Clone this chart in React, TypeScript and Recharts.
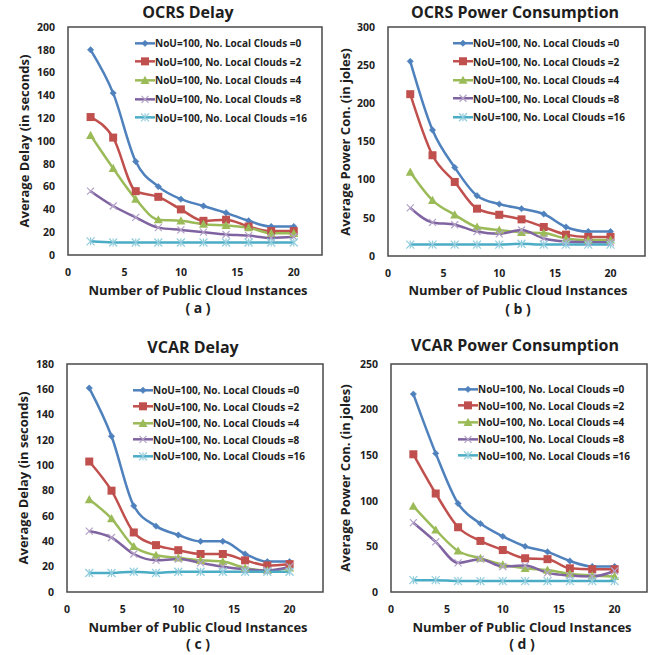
import React from 'react';
import { LineChart, Line, XAxis, YAxis, ReferenceArea, Legend } from 'recharts';

const instances = [2, 4, 6, 8, 10, 12, 14, 16, 18, 20];
const xTicks = [0, 5, 10, 15, 20];
const seriesNames = [
  'NoU=100, No. Local Clouds =0',
  'NoU=100, No. Local Clouds =2',
  'NoU=100, No. Local Clouds =4',
  'NoU=100, No. Local Clouds =8',
  'NoU=100, No. Local Clouds =16',
];

const ocrsDelay0 = [180, 142, 82, 60, 49, 43, 37, 30, 25, 25];
const ocrsDelay2 = [121, 103, 56, 51, 40, 30, 31, 25, 21, 21];
const ocrsDelay4 = [105, 76, 49, 31, 30, 27, 26, 24, 19, 19];
const ocrsDelay8 = [56, 43, 33, 24, 22, 20, 18, 17, 15, 16];
const ocrsDelay16 = [12, 11, 11, 11, 11, 11, 11, 11, 11, 11];

const ocrsPower0 = [255, 165, 116, 79, 68, 62, 55, 38, 32, 32];
const ocrsPower2 = [212, 132, 97, 62, 54, 48, 38, 28, 25, 25];
const ocrsPower4 = [110, 73, 54, 38, 34, 31, 30, 23, 21, 21];
const ocrsPower8 = [63, 44, 41, 32, 29, 34, 23, 19, 18, 18];
const ocrsPower16 = [15, 15, 15, 15, 15, 16, 15, 15, 15, 15];

const vcarDelay0 = [161, 123, 68, 52, 45, 40, 40, 30, 24, 24];
const vcarDelay2 = [103, 80, 47, 37, 33, 30, 30, 25, 21, 22];
const vcarDelay4 = [73, 58, 36, 29, 27, 25, 24, 19, 17, 19];
const vcarDelay8 = [48, 43, 30, 25, 26, 23, 20, 18, 17, 20];
const vcarDelay16 = [15, 15, 16, 15, 16, 16, 16, 16, 16, 16];

const vcarPower0 = [217, 152, 97, 75, 61, 50, 44, 34, 28, 28];
const vcarPower2 = [151, 108, 71, 56, 46, 37, 36, 26, 25, 25];
const vcarPower4 = [94, 68, 45, 37, 30, 26, 24, 20, 18, 17];
const vcarPower8 = [76, 55, 32, 36, 28, 29, 21, 18, 17, 23];
const vcarPower16 = [13, 13, 12, 12, 12, 12, 12, 12, 12, 12];

const FONT = "'Open Sans', Lato, 'Liberation Sans', sans-serif";
const TEXT = '#1e1e1e';

const seriesStyle = [
  { key: 's0', color: '#4F81BD', marker: 'diamond', mcolor: '#4F81BD' },
  { key: 's1', color: '#C0504D', marker: 'square', mcolor: '#C0504D' },
  { key: 's2', color: '#9BBB59', marker: 'triangle', mcolor: '#9BBB59' },
  { key: 's3', color: '#8064A2', marker: 'x', mcolor: '#B3A2C7' },
  { key: 's4', color: '#4BACC6', marker: 'star', mcolor: '#93CDDD' },
];

function buildTable(cols: number[][]) {
  return instances.map((x, i) => {
    const row: Record<string, number> = { x };
    cols.forEach((c, j) => {
      row['s' + j] = c[i];
    });
    return row;
  });
}

function Marker({ kind, cx, cy, color }: { kind: string; cx: number; cy: number; color: string }) {
  if (kind === 'diamond') {
    const r = 3.2;
    return <path d={`M${cx},${cy - r}L${cx + r},${cy}L${cx},${cy + r}L${cx - r},${cy}Z`} fill={color} stroke={color} strokeWidth={0.5} />;
  }
  if (kind === 'square') {
    const r = 4;
    return <rect x={cx - r} y={cy - r} width={2 * r} height={2 * r} fill={color} />;
  }
  if (kind === 'triangle') {
    const r = 4.5;
    return <path d={`M${cx},${cy - r}L${cx + r},${cy + r * 0.8}L${cx - r},${cy + r * 0.8}Z`} fill={color} />;
  }
  if (kind === 'x') {
    const r = 3.5;
    return (
      <g stroke={color} strokeWidth={1.2}>
        <line x1={cx - r} y1={cy - r} x2={cx + r} y2={cy + r} />
        <line x1={cx - r} y1={cy + r} x2={cx + r} y2={cy - r} />
      </g>
    );
  }
  const r = 4;
  return (
    <g stroke={color} strokeWidth={1.2}>
      <line x1={cx - r} y1={cy - r} x2={cx + r} y2={cy + r} />
      <line x1={cx - r} y1={cy + r} x2={cx + r} y2={cy - r} />
      <line x1={cx} y1={cy - r} x2={cx} y2={cy + r} />
    </g>
  );
}

const makeDot = (kind: string, color: string) => (props: any) => {
  const { cx, cy, index } = props;
  if (cx == null || cy == null) return <g key={index} />;
  return (
    <g key={index}>
      <Marker kind={kind} cx={cx} cy={cy} color={color} />
    </g>
  );
};

type PanelProps = {
  box: { left: number; top: number; width: number; height: number };
  plot: { left: number; top: number; right: number; bottom: number };
  xMax: number;
  yMax: number;
  yStep: number;
  cols: number[][];
  title: string;
  titleX: number;
  titleY: number;
  yLabel: string;
  yLabelX: number;
  xLabelX: number;
  xLabelY: number;
  letter: string;
  letterY: number;
  legendX: number;
  legendY: number;
  rowH: number;
};

function Panel(p: PanelProps) {
  const data = buildTable(p.cols);
  const yTicks: number[] = [];
  for (let v = 0; v <= p.yMax; v += p.yStep) yTicks.push(v);
  const yAxisWidth = p.plot.left - p.box.left;
  const xAxisHeight = p.box.top + p.box.height - p.plot.bottom;
  const margin = { top: p.plot.top - p.box.top, right: p.box.left + p.box.width - p.plot.right, left: 0, bottom: 0 };
  const tickStyle = { fill: TEXT, fontSize: 10.5, fontWeight: 700, fontFamily: FONT };
  const midY = (p.plot.top + p.plot.bottom) / 2;

  const legendContent = () => (
    <div style={{ fontFamily: FONT, fontSize: 10, fontWeight: 700, color: TEXT }}>
      {seriesStyle.map((s, i) => (
        <div key={s.key} style={{ display: 'flex', alignItems: 'center', height: p.rowH, whiteSpace: 'nowrap' }}>
          <svg width={20} height={p.rowH} style={{ display: 'block' }}>
            <line x1={0} y1={p.rowH / 2} x2={20} y2={p.rowH / 2} stroke={s.color} strokeWidth={2.5} />
            <Marker kind={s.marker} cx={10} cy={p.rowH / 2} color={s.mcolor} />
          </svg>
          <span>{seriesNames[i]}</span>
        </div>
      ))}
    </div>
  );

  return (
    <>
      <div style={{ position: 'absolute', left: p.box.left, top: p.box.top }}>
        <LineChart width={p.box.width} height={p.box.height} data={data} margin={margin}>
          <XAxis
            dataKey="x"
            type="number"
            domain={[0, p.xMax]}
            ticks={xTicks}
            allowDataOverflow
            height={xAxisHeight}
            tickLine={false}
            tickSize={6}
            tickMargin={8}
            axisLine={false}
            tick={tickStyle}
          />
          <YAxis
            type="number"
            domain={[0, p.yMax]}
            ticks={yTicks}
            width={yAxisWidth}
            tickLine={false}
            tickSize={6}
            tickMargin={7}
            axisLine={false}
            tick={tickStyle}
            interval={0}
          />
          <ReferenceArea x1={0} x2={p.xMax} y1={0} y2={p.yMax} fill="none" fillOpacity={0} stroke="#4a4a4a" strokeWidth={1.5} />
          {seriesStyle.map((s, i) => (
            <Line
              key={s.key}
              dataKey={s.key}
              name={seriesNames[i]}
              type="monotone"
              stroke={s.color}
              strokeWidth={2.5}
              dot={makeDot(s.marker, s.mcolor)}
              activeDot={false}
              isAnimationActive={false}
            />
          ))}
          <Legend
            layout="vertical"
            align="center"
            verticalAlign="middle"
            content={legendContent}
            wrapperStyle={{ left: p.legendX - p.box.left, top: p.legendY - p.box.top - p.rowH / 2, width: 200 }}
          />
        </LineChart>
      </div>
      <div style={{ position: 'absolute', left: p.titleX - 150, top: p.titleY - 11, width: 300, textAlign: 'center', fontFamily: FONT, fontWeight: 700, fontSize: 16, lineHeight: '22px', color: TEXT }}>
        {p.title}
      </div>
      <div style={{ position: 'absolute', left: p.yLabelX - 150, top: midY - 9, width: 300, height: 18, textAlign: 'center', transform: 'rotate(-90deg)', fontFamily: FONT, fontWeight: 700, fontSize: 13, lineHeight: '18px', color: TEXT, whiteSpace: 'nowrap' }}>
        {p.yLabel}
      </div>
      <div style={{ position: 'absolute', left: p.xLabelX - 150, top: p.xLabelY - 7.5, width: 300, textAlign: 'center', fontFamily: FONT, fontWeight: 700, fontSize: 13, lineHeight: '15px', color: TEXT }}>
        Number of Public Cloud Instances
      </div>
      <div style={{ position: 'absolute', left: p.xLabelX - 50, top: p.letterY - 7, width: 100, textAlign: 'center', fontFamily: FONT, fontWeight: 700, fontSize: 14, lineHeight: '15px', color: TEXT, whiteSpace: 'pre' }}>
        {`( ${p.letter} )`}
      </div>
    </>
  );
}

export default function App() {
  return (
    <div style={{ position: 'absolute', left: 0, top: 0, width: 656, height: 655, background: '#fff' }}>
      <Panel
        box={{ left: 0, top: 0, width: 328, height: 325 }}
        plot={{ left: 68, top: 27, right: 322, bottom: 255 }}
        xMax={22.5}
        yMax={200}
        yStep={20}
        cols={[ocrsDelay0, ocrsDelay2, ocrsDelay4, ocrsDelay8, ocrsDelay16]}
        title="OCRS Delay"
        titleX={188}
        titleY={12}
        yLabel="Average Delay (in seconds)"
        yLabelX={24}
        xLabelX={198}
        xLabelY={290}
        letter="a"
        letterY={307}
        legendX={135}
        legendY={43}
        rowH={18.7}
      />
      <Panel
        box={{ left: 328, top: 0, width: 328, height: 325 }}
        plot={{ left: 388, top: 27, right: 645, bottom: 256 }}
        xMax={23.1}
        yMax={300}
        yStep={50}
        cols={[ocrsPower0, ocrsPower2, ocrsPower4, ocrsPower8, ocrsPower16]}
        title="OCRS Power Consumption"
        titleX={515}
        titleY={12}
        yLabel="Average Power Con. (in joles)"
        yLabelX={345}
        xLabelX={518}
        xLabelY={290}
        letter="b"
        letterY={308}
        legendX={453}
        legendY={43}
        rowH={18.5}
      />
      <Panel
        box={{ left: 0, top: 330, width: 328, height: 325 }}
        plot={{ left: 67, top: 364, right: 323, bottom: 592 }}
        xMax={23}
        yMax={180}
        yStep={20}
        cols={[vcarDelay0, vcarDelay2, vcarDelay4, vcarDelay8, vcarDelay16]}
        title="VCAR Delay"
        titleX={193}
        titleY={347}
        yLabel="Average Delay (in seconds)"
        yLabelX={23}
        xLabelX={198}
        xLabelY={627}
        letter="c"
        letterY={643}
        legendX={133}
        legendY={390}
        rowH={16.6}
      />
      <Panel
        box={{ left: 328, top: 330, width: 328, height: 325 }}
        plot={{ left: 391, top: 364, right: 647, bottom: 592 }}
        xMax={22.9}
        yMax={250}
        yStep={50}
        cols={[vcarPower0, vcarPower2, vcarPower4, vcarPower8, vcarPower16]}
        title="VCAR Power Consumption"
        titleX={515}
        titleY={345}
        yLabel="Average Power Con. (in joles)"
        yLabelX={345}
        xLabelX={522}
        xLabelY={627}
        letter="d"
        letterY={643}
        legendX={458}
        legendY={389}
        rowH={16.7}
      />
    </div>
  );
}
